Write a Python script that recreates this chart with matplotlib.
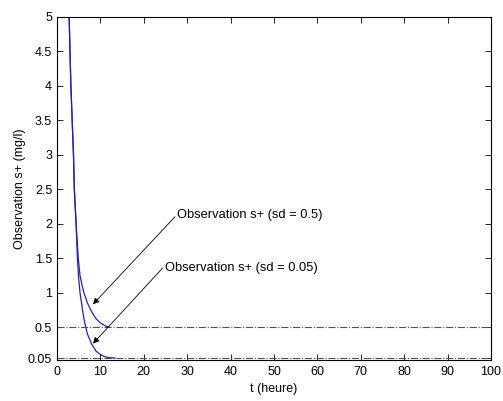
import numpy as np
import matplotlib
matplotlib.use('Agg')
import matplotlib.pyplot as plt

plt.rcParams['font.family'] = ['Liberation Sans', 'DejaVu Sans']

# courbes (t en heures, s+ en mg/l)
t_common = [2.8, 3.0, 3.2, 3.5, 3.8, 4.0, 4.4]
s_common = [5.0, 4.5, 4.0, 3.5, 3.0, 2.5, 2.0]

t_sd05 = [4.9, 5.3, 5.8, 6.2, 7.0, 8.0, 9.0, 10.0, 11.0, 12.0]
s_sd05 = [1.5, 1.25, 1.1, 1.0, 0.85, 0.72, 0.62, 0.56, 0.52, 0.5]

t_sd005 = [4.7, 5.0, 5.3, 6.0, 6.4, 7.0, 8.0, 9.0, 10.0, 11.0, 12.0, 13.4]
s_sd005 = [1.5, 1.2, 1.0, 0.7, 0.56, 0.4, 0.25, 0.15, 0.1, 0.07, 0.055, 0.05]

levels = [0.5, 0.05]
yticks = [0.05, 0.5, 1, 1.5, 2, 2.5, 3, 3.5, 4, 4.5, 5]
ytlabels = ['0.05', '0.5', '1', '1.5', '2', '2.5', '3', '3.5', '4', '4.5', '5']

fig = plt.figure(figsize=(5.03, 4.01), dpi=100)
ax = fig.add_axes([0.1133, 0.102, 0.8627, 0.856])

blue = '#2323a8'
ax.plot(t_common + t_sd05, s_common + s_sd05, color=blue, lw=0.9)
ax.plot(t_common + t_sd005, s_common + s_sd005, color=blue, lw=0.9)
for lv in levels:
    ax.axhline(lv, color='#505050', lw=0.8, ls='-.')

arr = dict(arrowstyle='-|>', color='black', lw=0.6, mutation_scale=9,
           shrinkA=0, shrinkB=0)
ax.annotate('', xy=(8.3, 0.83), xytext=(27.2, 2.1), arrowprops=arr)
ax.annotate('', xy=(8.3, 0.26), xytext=(24.4, 1.36), arrowprops=arr)
ax.text(27.6, 2.12, 'Observation s+ (sd = 0.5)', fontsize=9.3, va='center', ha='left')
ax.text(25.0, 1.35, 'Observation s+ (sd = 0.05)', fontsize=9.3, va='center', ha='left')

ax.set_xlim(0, 100)
ax.set_ylim(0.02, 5)
ax.set_xticks(np.arange(0, 101, 10))
ax.set_yticks(yticks)
ax.set_yticklabels(ytlabels)
ax.tick_params(direction='in', top=True, right=True, labelsize=9, length=4, width=0.6)
ax.tick_params(axis='x', pad=4)
for sp in ax.spines.values():
    sp.set_linewidth(0.8)
ax.set_xlabel('t (heure)', fontsize=9, labelpad=4)
ax.set_ylabel('Observation s+ (mg/l)', fontsize=9, labelpad=1.5)

fig.savefig('out.png', dpi=100)
